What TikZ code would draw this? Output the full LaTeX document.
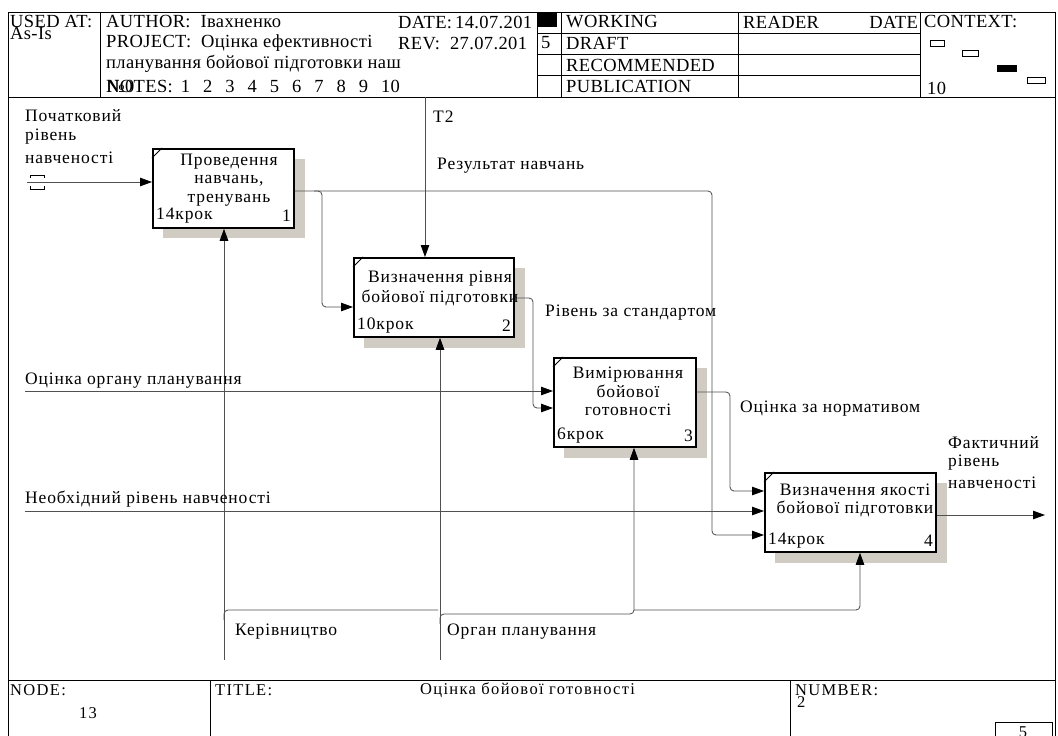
\documentclass[tikz,border=0pt]{standalone}
\usepackage{fontspec}
\setmainfont{Liberation Serif}
\newfontfamily\lblfont[LetterSpace=5]{Liberation Serif}
\newfontfamily\hdrfont[LetterSpace=2]{Liberation Serif}
\newfontfamily\ftrfont[LetterSpace=8]{Liberation Serif}
\usetikzlibrary{arrows.meta}
\definecolor{shadowc}{RGB}{208,204,196}
\definecolor{linec}{RGB}{80,80,80}
\tikzset{
  box/.style={draw=black, line width=1.8pt, fill=white, inner sep=0pt, anchor=north west},
  conn/.style={draw=linec, line width=0.85pt, rounded corners=4pt},
  arr/.style={conn, -{Triangle[length=12pt,width=8.5pt,color=black,fill=black]}},
  lab/.style={font=\lblfont\fontsize{17.5}{18.5}\selectfont, inner sep=0pt, anchor=west},
  btext/.style={font=\lblfont\fontsize{17.5}{18.5}\selectfont, inner sep=0pt, align=center},
  hdr/.style={font=\hdrfont\fontsize{18.5}{19}\selectfont, inner sep=0pt, anchor=west},
  ftr/.style={font=\ftrfont\fontsize{16.5}{18}\selectfont, inner sep=0pt, anchor=west},
  frame/.style={draw=black, line width=0.9pt},
  ctx/.style={draw=black, line width=0.8pt, fill=white}
}
\begin{document}
\begin{tikzpicture}[x=1pt,y=-1pt]
\clip (0,0) rectangle (1058,736);
\fill[white] (0,0) rectangle (1058,736);

% ---------- frame & header ----------
\draw[frame] (8,12) -- (1055,12);
\draw[frame] (8,12) -- (8,736);
\draw[frame] (1055,12) -- (1055,736);
\draw[frame] (8,97) -- (1055,97);
\draw[frame] (100,12) -- (100,97);
\draw[frame] (537,12) -- (537,97);
\draw[frame] (561,12) -- (561,97);
\draw[frame] (738,12) -- (738,97);
\draw[frame] (920,12) -- (920,97);
\draw[frame] (537,33) -- (920,33);
\draw[frame] (537,54) -- (920,54);
\draw[frame] (537,75) -- (920,75);

\node[hdr] (usedat) at (10,22) {USED AT:};
\node[hdr] (asis) at (10,33) {As-Is};
\node[hdr] (author) at (106,22) {AUTHOR:\ \ Івахненко};
\node[hdr] (date) at (398,22) {DATE:\,14.07.201};
\node[hdr] (project) at (106,43) {PROJECT:\ \ Оцінка ефективності};
\node[hdr] (rev) at (398,43) {REV:\ \ 27.07.201};
\node[hdr] (rev5) at (541,43) {5};
\node[hdr] (proj2) at (106,64) {планування бойової підготовки наш};
\node[hdr] (notes) at (106,86) {NOTES:\hspace{8pt}1\hspace{13pt}2\hspace{13pt}3\hspace{13pt}4\hspace{13pt}5\hspace{13pt}6\hspace{13pt}7\hspace{13pt}8\hspace{13pt}9\hspace{13pt}10};
\node[hdr] (numsign) at (107,86) {№0};
\fill[black] (537,12) rectangle (557,27);
\node[hdr] (working) at (566,22) {WORKING};
\node[hdr] (draft) at (566,43) {DRAFT};
\node[hdr] (recom) at (566,65) {RECOMMENDED};
\node[hdr] (publ) at (566,86) {PUBLICATION};
\node[hdr] (reader) at (743,22) {READER};
\node[hdr, anchor=east] (rdate) at (918,22) {DATE};
\node[hdr] (context) at (924,22) {CONTEXT:};
\node[hdr] (ctxnum) at (927,88) {10};
\draw[ctx] (930,40) rectangle (944,46);
\draw[ctx] (962,50) rectangle (978,56);
\fill[black] (997,65) rectangle (1017,72);
\draw[ctx] (1027,77) rectangle (1045,83);

% ---------- footer ----------
\draw[frame] (8,680) -- (1055,680);
\draw[frame] (210,680) -- (210,736);
\draw[frame] (790,680) -- (790,736);
\draw[frame] (995,722) rectangle (1052,745);
\node[ftr] (node) at (10,690) {NODE:};
\node[ftr, anchor=center] (nodenum) at (88,713) {13};
\node[ftr] (title) at (215,690) {TITLE:};
\node[ftr] (titletext) at (420,690) {Оцінка бойової готовності};
\node[ftr] (number) at (795,690) {NUMBER:};
\node[ftr] (numval) at (797,702) {2};
\node[ftr, anchor=center] (page) at (1023,732) {5};

% ---------- shadows ----------
\fill[shadowc] (163,159) rectangle (305,238);
\fill[shadowc] (364,268) rectangle (525,348);
\fill[shadowc] (564,368) rectangle (707,458);
\fill[shadowc] (775,483) rectangle (947,563);

% ---------- boxes ----------
\node[box, minimum width=141pt, minimum height=79pt] (b1) at (152,148) {};
\node[box, minimum width=160pt, minimum height=79pt] (b2) at (353,257) {};
\node[box, minimum width=142pt, minimum height=89pt] (b3) at (553,357) {};
\node[box, minimum width=171pt, minimum height=79pt] (b4) at (764,472) {};
\foreach \b in {b1,b2,b3,b4}{
  \draw[line width=1pt] ([yshift=-10pt]\b.north west) -- ([xshift=10pt]\b.north west);
}

% ---------- connectors ----------
\coordinate (in1) at (27,182);
\draw[arr] (in1) -- (in1 -| b1.west);
\draw[line width=0.8pt] (30,178) -- (30,175) -- (44,175) -- (44,178);
\draw[line width=0.8pt] (30,186) -- (30,189) -- (44,189) -- (44,186);

\coordinate (j1) at (712,191);
\coordinate (j1b) at (712,535);
\draw[arr] (b1.east |- j1) -- (j1) -- (j1b) -- (j1b -| b4.west);
\coordinate (j2a) at (314,191);
\coordinate (j2) at (322,191);
\coordinate (j2b) at (322,307);
\draw[arr] (j2a) -- (j2) -- (j2b) -- (j2b -| b2.west);

\coordinate (t2) at (425,97);
\draw[arr] (t2) -- (t2 |- b2.north);

\coordinate (j3) at (533,298);
\coordinate (j3b) at (533,408);
\draw[arr] (b2.east |- j3) -- (j3) -- (j3b) -- (j3b -| b3.west);

\coordinate (in2) at (25,391);
\draw[arr] (in2) -- (in2 -| b3.west);

\coordinate (j4) at (730,392);
\coordinate (j4b) at (730,491);
\draw[arr] (b3.east |- j4) -- (j4) -- (j4b) -- (j4b -| b4.west);

\coordinate (in3) at (25,511);
\draw[arr] (in3) -- (in3 -| b4.west);

\coordinate (out1) at (1045,515);
\draw[arr] (b4.east |- out1) -- (out1);

\coordinate (m1) at (224,660);
\draw[arr] (m1) -- (m1 |- b1.south);
\coordinate (m1a) at (224,620);
\coordinate (m1b) at (224,610);
\coordinate (m1c) at (438,610);
\draw[conn] (m1a) -- (m1b) -- (m1c);

\coordinate (m2) at (440,660);
\draw[arr] (m2) -- (m2 |- b2.south);
\coordinate (m2a) at (440,624);
\coordinate (m2b) at (440,614);
\coordinate (m2c) at (634,614);
\draw[arr] (m2a) -- (m2b) -- (m2c) -- (m2c |- b3.south);
\coordinate (m3a) at (634,610);
\coordinate (m3b) at (860,610);
\draw[arr] (m3a) -- (m3b) -- (m3b |- b4.south);

% ---------- box texts ----------
\node[btext] (b1t) at (229,180) {Проведення\\навчань,\\тренувань};
\node[lab] (b1s) at (156,216) {14крок};
\node[lab, anchor=east] (b1n) at (291,216) {1};
\node[btext] (b2t) at (440,288.5) {Визначення рівня\\[2pt]бойової підготовки};
\node[lab] (b2s) at (357,326) {10крок};
\node[lab, anchor=east] (b2n) at (511,326) {2};
\node[btext] (b3t) at (628,391.5) {Вимірювання\\бойової\\готовності};
\node[lab] (b3s) at (557,436) {6крок};
\node[lab, anchor=east] (b3n) at (693,436) {3};
\node[btext] (b4t) at (855,500.5) {Визначення якості\\бойової підготовки};
\node[lab] (b4s) at (768,541) {14крок};
\node[lab, anchor=east] (b4n) at (933,541) {4};

% ---------- arrow labels ----------
\node[lab] (l1a) at (25,116) {Початковий};
\node[lab] (l1b) at (25,137) {рівень};
\node[lab] (l1c) at (25,158) {навченості};
\node[lab] (lt2) at (433,117) {T2};
\node[lab] (lres) at (437,166) {Результат навчань};
\node[lab] (lstd) at (545,313) {Рівень за стандартом};
\node[lab] (lorg) at (25,381) {Оцінка органу планування};
\node[lab] (lnorm) at (740,409) {Оцінка за нормативом};
\node[lab] (lneed) at (25,499) {Необхідний рівень навченості};
\node[lab] (lf1) at (948,443) {Фактичний};
\node[lab] (lf2) at (948,463) {рівень};
\node[lab] (lf3) at (948,483) {навченості};
\node[lab] (lkev) at (235,632) {Керівництво};
\node[lab] (lorgp) at (447,632) {Орган планування};
\end{tikzpicture}
\end{document}
